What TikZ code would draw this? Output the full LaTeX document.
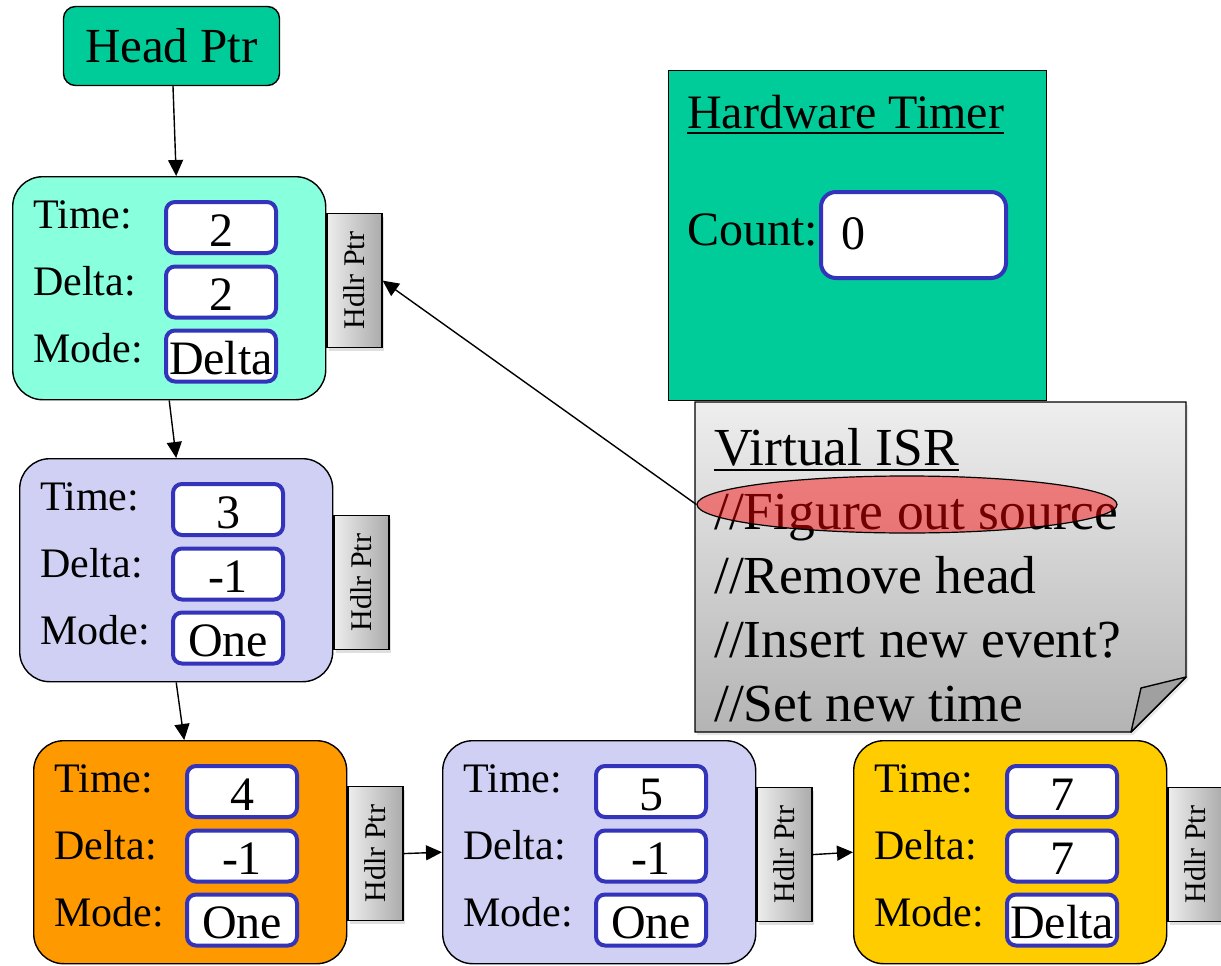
\documentclass[tikz,border=0pt]{standalone}
\usepackage{fontspec}
\setmainfont{Liberation Serif}
\usetikzlibrary{arrows.meta,shapes.geometric,shadows}
\definecolor{headgreen}{RGB}{0,204,153}
\definecolor{nodeaqua}{RGB}{136,255,221}
\definecolor{nodelilac}{RGB}{208,208,244}
\definecolor{nodeorange}{RGB}{255,153,0}
\definecolor{nodeyellow}{RGB}{255,204,0}
\definecolor{fieldblue}{RGB}{51,51,187}
\definecolor{notetop}{RGB}{238,238,238}
\definecolor{notebottom}{RGB}{180,180,180}
\definecolor{flapgray}{RGB}{160,160,160}

\begin{document}
\begin{tikzpicture}[x=1pt,y=-1pt,
    ptr/.style={-{Triangle[length=16pt,width=15pt]},line width=1.4pt},
    headbox/.style={draw,line width=1.4pt,fill=headgreen,rounded corners=12pt,
        minimum width=216pt,minimum height=79pt,font=\fontsize{49}{58}\selectfont},
    eventbox/.style={draw,line width=1.4pt,rounded corners=30pt,
        minimum width=313pt,minimum height=223pt,anchor=north west},
    fieldlbl/.style={anchor=base west,inner sep=0pt,font=\fontsize{42}{50}\selectfont},
    fieldbox/.style={draw=fieldblue,line width=4pt,fill=white,rounded corners=9pt,
        minimum width=110pt,minimum height=51pt,inner sep=0pt,
        text height=37pt,text depth=0pt,font=\fontsize{48}{57}\selectfont},
    hdlrtab/.style={draw,line width=1.2pt,left color=black!7,right color=black!33,
        minimum width=55pt,minimum height=134pt,anchor=north west,
        drop shadow={shadow xshift=2pt,shadow yshift=-3pt,opacity=.25}},
    tablbl/.style={rotate=90,inner sep=0pt,font=\fontsize{30}{36}\selectfont},
    bigtxt/.style={anchor=base west,inner sep=0pt,font=\fontsize{48}{57}\selectfont},
    isrtxt/.style={anchor=base west,inner sep=0pt,font=\fontsize{53.5}{64}\selectfont}]

\useasboundingbox (0,0) rectangle (1221,966);

% head pointer
\node[headbox] (head) at (171.5,46) {Head Ptr};

% event list
\foreach \n/\px/\py/\col/\tval/\dval/\mval/\tb in {
    1/12/176/nodeaqua/2/2/Delta/37,
    2/19/458/nodelilac/3/-1/One/57,
    3/33/740/nodeorange/4/-1/One/46,
    4/442/740/nodelilac/5/-1/One/47,
    5/853/740/nodeyellow/7/7/Delta/47}{
  \node[eventbox,fill=\col] (e\n) at (\px,\py) {};
  \node[fieldlbl] (e\n-tlbl) at ([shift={(21,52)}]e\n.north west) {Time:};
  \node[fieldlbl] (e\n-dlbl) at ([shift={(21,119)}]e\n.north west) {Delta:};
  \node[fieldlbl] (e\n-mlbl) at ([shift={(21,186)}]e\n.north west) {Mode:};
  \node[fieldbox] (e\n-time) at ([shift={(209,51.5)}]e\n.north west) {\tval};
  \node[fieldbox] (e\n-delta) at ([shift={(209,116)}]e\n.north west) {\dval};
  \node[fieldbox] (e\n-mode) at ([shift={(209,180)}]e\n.north west) {\mval};
  \node[hdlrtab] (e\n-tab) at ([shift={(0,\tb)}]e\n.north east) {};
  \node[tablbl] (e\n-tabtxt) at (e\n-tab.center) {Hdlr Ptr};
}

\draw[ptr] ([xshift=1.5pt]head.south) -- ([xshift=7pt]e1.north);
\draw[ptr] (e1.south) -- (e2.north);
\draw[ptr] (e2.south) -- ([xshift=-6pt]e3.north);
\draw[ptr] (e3-tab.east) -- (e4.west);
\draw[ptr] (e4-tab.east) -- (e5.west);

% hardware timer
\node[draw,line width=1.4pt,fill=headgreen,minimum width=378pt,minimum height=330pt,
    anchor=north west] (hwtimer) at (668,70) {};
\node[bigtxt] (hwtitle) at (687,128) {Hardware Timer};
\draw[line width=2.5pt] ([yshift=-5pt]hwtitle.base west) -- ([yshift=-5pt]hwtitle.base east);
\node[bigtxt] (countlbl) at (687,245) {Count:};
\node[draw=fieldblue,line width=4pt,fill=white,rounded corners=15pt,
    minimum width=185pt,minimum height=86pt] (countbox) at (913.5,235) {};
\node[bigtxt] (countval) at (841,249) {0};

% virtual ISR note
\path[draw,line width=1.4pt,top color=notetop,bottom color=notebottom,
    drop shadow={shadow xshift=2pt,shadow yshift=-3pt,opacity=.2}]
    (695,402) -- (1186,402) -- (1186,677) -- (1131,732) -- (695,732) -- cycle;
\draw[line width=1.4pt,fill=flapgray,line join=round] (1186,677) -- (1141,688) -- (1131,732) -- cycle;
\node[isrtxt] (isrtitle) at (714,465) {Virtual ISR};
\draw[line width=2.5pt] ([yshift=-5pt]isrtitle.base west) -- ([yshift=-5pt]isrtitle.base east);
\node[isrtxt] (isr1) at (714,529) {//Figure out source};
\node[isrtxt] (isr2) at (714,593) {//Remove head};
\node[isrtxt] (isr3) at (714,657) {//Insert new event?};
\node[isrtxt] (isr4) at (714,721) {//Set new time};
\node[ellipse,draw,line width=1.2pt,fill=red,fill opacity=.45,draw opacity=1,
    minimum width=420pt,minimum height=57pt,inner sep=0pt] (srcmark) at (907,504.5) {};

\draw[ptr] (srcmark.west) -- (e1-tab.east);
\end{tikzpicture}
\end{document}
